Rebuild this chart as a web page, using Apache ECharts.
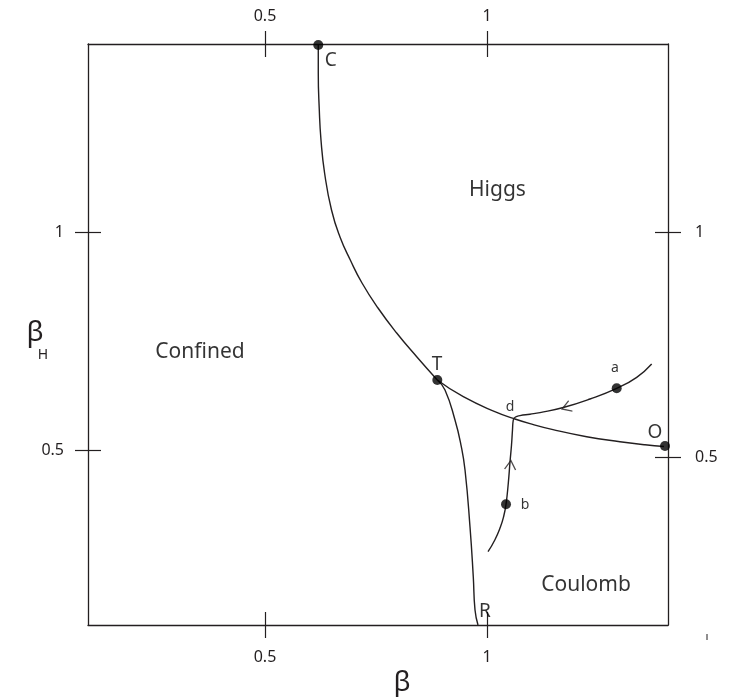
<!DOCTYPE html>
<html>
<head>
<meta charset="utf-8">
<script src="https://cdn.jsdelivr.net/npm/echarts@6/dist/echarts.min.js"></script>
<style>
html, body { margin: 0; padding: 0; background: #fff; }
#chart { width: 734px; height: 697px; }
</style>
</head>
<body>
<div id="chart"></div>
<script>
// phase diagram, beta (x) against beta_H (y)
var tickValues = [0.5, 1];

// phase boundaries
var lineCT = [[0.6200, 1.4288], [0.6200, 1.3647], [0.6223, 1.2800], [0.6261, 1.2113], [0.6342, 1.1358],
    [0.6498, 1.0511], [0.6689, 0.9892], [0.6921, 0.9366], [0.7185, 0.8839], [0.7545, 0.8267], [0.7966, 0.7695],
    [0.8417, 0.7152], [0.8881, 0.6619]];
var lineTO = [[0.8881, 0.6619], [0.9466, 0.6236], [1.0218, 0.5877], [1.0592, 0.5739], [1.0968, 0.5620],
    [1.1486, 0.5483], [1.2245, 0.5321], [1.2995, 0.5206], [1.3559, 0.5135], [1.3986, 0.5096]];
var lineTR = [[0.8881, 0.6619], [0.9054, 0.6390], [0.9279, 0.5703], [0.9414, 0.5130], [0.9505, 0.4558],
    [0.9617, 0.3260], [0.9691, 0.2115], [0.9730, 0.1353], [0.9797, 0.1010]];

// flow line a -> d -> b
var flowPath = [[1.3709, 0.6985], [1.3372, 0.6680], [1.2921, 0.6429], [1.2320, 0.6184], [1.1718, 0.5989],
    [1.1194, 0.5872], [1.0968, 0.5836], [1.0743, 0.5804], [1.0642, 0.5772], [1.0592, 0.5703],
    [1.0574, 0.5474], [1.0552, 0.5130], [1.0518, 0.4741], [1.0480, 0.4261], [1.0428, 0.3773],
    [1.0372, 0.3482], [1.0302, 0.3253], [1.0176, 0.2956], [1.0023, 0.2688]];

// fixed points C, T, a, b, O
var dots = [[0.6200, 1.4288], [0.8881, 0.6619], [1.2921, 0.6429], [1.0428, 0.3773], [1.4009, 0.5108]];

// flow arrows: position and heading
var arrowPos = [[1.1786, 0.5991], [1.0529, 0.4673]];
var arrowAngle = [20, -95];

// text
var regionNames = [[1.0236, 1.0968, 'Higgs'], [0.3536, 0.7260, 'Confined'], [1.2230, 0.1925, 'Coulomb']];
var pointNames = [[0.6480, 1.3929, 'C'], [0.8874, 0.6962, 'T'], [1.3784, 0.5405, 'O'], [0.9955, 0.1314, 'R']];
var flowNames = [[1.2883, 0.6893, 'a'], [1.0856, 0.3757, 'b'], [1.0518, 0.6000, 'd']];

var ink = '#231f20';
var font = 'Noto Sans';

function xAx(pos, inside, labels, margin) {
    return {
        type: 'value', position: pos, min: 0.10135, max: 1.40766,
        axisLine: { show: !inside, lineStyle: { color: ink, width: 1.3 } },
        axisTick: { show: true, inside: inside, length: 13, customValues: tickValues, lineStyle: { color: ink, width: 1.2 } },
        axisLabel: { show: labels, customValues: tickValues, margin: margin, fontSize: 16, color: ink, fontFamily: font },
        splitLine: { show: false }
    };
}
function yAx(pos, inside, labels, margin, mn, mx) {
    return {
        type: 'value', position: pos, min: mn, max: mx,
        axisLine: { show: !inside, lineStyle: { color: ink, width: 1.3 } },
        axisTick: { show: true, inside: inside, length: 13, customValues: tickValues, lineStyle: { color: ink, width: 1.2 } },
        axisLabel: { show: labels, customValues: tickValues, margin: margin, fontSize: 16, color: ink, fontFamily: font },
        splitLine: { show: false }
    };
}

function curve(data) {
    return {
        type: 'line', data: data, smooth: 0.5, showSymbol: false, symbol: 'none', clip: false,
        lineStyle: { color: ink, width: 1.4 }, silent: true, z: 3
    };
}
function textSeries(list, size) {
    return {
        type: 'scatter', symbolSize: 1, itemStyle: { color: 'rgba(0,0,0,0)' }, silent: true, z: 6,
        data: list.map(function (d) { return { value: [d[0], d[1]], name: d[2] }; }),
        label: { show: true, position: 'inside', formatter: '{b}', fontSize: size, color: '#000',
            textBorderWidth: 0, fontFamily: font }
    };
}

var chart = echarts.init(document.getElementById('chart'));
chart.setOption({
    backgroundColor: '#fff',
    animation: false,
    grid: { left: 88, top: 44, width: 580, height: 581, containLabel: false, outerBoundsMode: 'none' },
    xAxis: [xAx('bottom', false, true, 24), xAx('bottom', true, false, 0),
            xAx('top', false, true, 20), xAx('top', true, false, 0)],
    yAxis: [yAx('left', false, true, 24, 0.1010, 1.4311), yAx('left', true, false, 0, 0.1010, 1.4311),
            yAx('right', false, true, 27, 0.1289, 1.4177), yAx('right', true, false, 0, 0.1289, 1.4177)],
    series: [
        curve(lineCT), curve(lineTO), curve(lineTR), curve(flowPath),
        {
            type: 'scatter', data: dots, symbol: 'circle', symbolSize: 10, silent: true, z: 5,
            itemStyle: { color: '#000' }
        },
        {
            type: 'scatter', symbol: 'path://M10,0L0,5L10,10', symbolSize: [9, 11], silent: true, z: 5,
            itemStyle: { color: 'none', borderColor: ink, borderWidth: 1.2 },
            data: arrowPos.map(function (p, i) { return { value: p, symbolRotate: arrowAngle[i] }; })
        },
        textSeries(regionNames, 21),
        textSeries(pointNames, 19),
        textSeries(flowNames, 14)
    ],
    graphic: [
        { type: 'text', x: 402, y: 683, style: { text: 'β', fontSize: 28, fontFamily: font, fill: ink, align: 'center', verticalAlign: 'middle' } },
        { type: 'text', x: 35, y: 333, style: { text: 'β', fontSize: 28, fontFamily: font, fill: ink, align: 'center', verticalAlign: 'middle' } },
        { type: 'text', x: 43, y: 355, style: { text: 'H', fontSize: 14, fontFamily: font, fill: ink, align: 'center', verticalAlign: 'middle' } },
        { type: 'line', shape: { x1: 707, y1: 634, x2: 707, y2: 640 }, style: { stroke: ink, lineWidth: 1 } }
    ]
});
</script>
</body>
</html>
